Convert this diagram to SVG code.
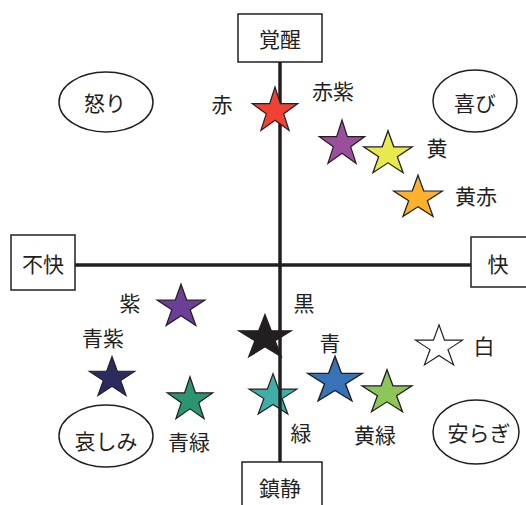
<svg xmlns="http://www.w3.org/2000/svg" width="526" height="505" viewBox="0 0 526 505">
<style>
text{font-family:"Noto Sans CJK JP","Noto Sans CJK SC",sans-serif;font-size:21px;fill:#231f20;text-anchor:middle}
.box{fill:#fff;stroke:#231f20;stroke-width:1.5}
.emo{fill:#fff;stroke:#231f20;stroke-width:1.5}
.star{stroke:#231f20;stroke-width:1.2;stroke-linejoin:miter}
.axis{stroke:#231f20;stroke-width:3.5;fill:none}
</style>
<defs>
<path id="st" d="M0,-24 L5.39,-7.42 L22.83,-7.42 L8.72,2.83 L14.11,19.42 L0,9.17 L-14.11,19.42 L-8.72,2.83 L-22.83,-7.42 L-5.39,-7.42 Z"/>
</defs>
<rect width="526" height="505" fill="#fff"/>
<g id="stars">
<g id="s-akamurasaki"><use href="#st" class="star" fill="#9b4e9c" transform="translate(342,144)"/><text x="333" y="99">赤紫</text></g>
<g id="s-ki"><use href="#st" class="star" fill="#e9e84c" transform="translate(388,154) scale(1.07,0.97)"/><text x="437" y="156">黄</text></g>
<g id="s-kiaka"><use href="#st" class="star" fill="#fbb12b" transform="translate(418,198) scale(1.07,0.95)"/><text x="476" y="204">黄赤</text></g>
<g id="s-murasaki"><use href="#st" class="star" fill="#6c3f97" transform="translate(181,307) scale(1.05,0.95)"/><text x="130" y="311">紫</text></g>
<g id="s-aomurasaki"><use href="#st" class="star" fill="#2b2b5f" transform="translate(112,378) scale(1.0,0.9)"/><text x="103" y="346">青紫</text></g>
<g id="s-aomidori"><use href="#st" class="star" fill="#2a9570" transform="translate(190,400) scale(1.0,0.97)"/><text x="189" y="450">青緑</text></g>
<g id="s-kuro"><use href="#st" class="star" fill="#231f20" transform="translate(265,338) scale(1.15,0.97)"/><text x="304" y="311">黒</text></g>
<g id="s-midori"><use href="#st" class="star" fill="#40ada6" transform="translate(273,396) scale(1.05,0.93)"/><text x="301" y="441">緑</text></g>
<g id="s-ao"><use href="#st" class="star" fill="#3873b9" transform="translate(335,381) scale(1.2,1.03)"/><text x="330" y="351">青</text></g>
<g id="s-kimidori"><use href="#st" class="star" fill="#8cc65a" transform="translate(387,393) scale(1.1,0.97)"/><text x="375" y="443">黄緑</text></g>
<g id="s-shiro"><use href="#st" class="star" fill="#ffffff" transform="translate(439,347) scale(1.03,0.92)"/><text x="484" y="354">白</text></g>
</g>
<g id="connectors">
<line class="axis" x1="280" y1="62" x2="280" y2="462"/>
<line class="axis" x1="75" y1="265" x2="471" y2="265"/>
</g>
<g id="s-aka"><use href="#st" class="star" fill="#ef4134" transform="translate(275,111)"/><text x="222" y="112">赤</text></g>
<g id="kakusei"><rect class="box" x="238" y="14" width="84" height="48"/><text x="280" y="47">覚醒</text></g>
<g id="chinsei"><rect class="box" x="242" y="462" width="80" height="50"/><text x="280" y="496">鎮静</text></g>
<g id="fukai"><rect class="box" x="11" y="235" width="64" height="55"/><text x="43" y="272">不快</text></g>
<g id="kai"><rect class="box" x="471" y="237" width="60" height="50"/><text x="498" y="272">快</text></g>
<g id="ikari"><ellipse class="emo" cx="106" cy="102" rx="47" ry="30"/><text x="105" y="111">怒り</text></g>
<g id="yorokobi"><ellipse class="emo" cx="475" cy="101" rx="42" ry="31"/><text x="475" y="111">喜び</text></g>
<g id="kanashimi"><ellipse class="emo" cx="106" cy="436" rx="47" ry="31"/><text x="106" y="449">哀しみ</text></g>
<g id="yasuragi"><ellipse class="emo" cx="476" cy="432" rx="43" ry="32"/><text x="479" y="441">安らぎ</text></g>
</svg>
